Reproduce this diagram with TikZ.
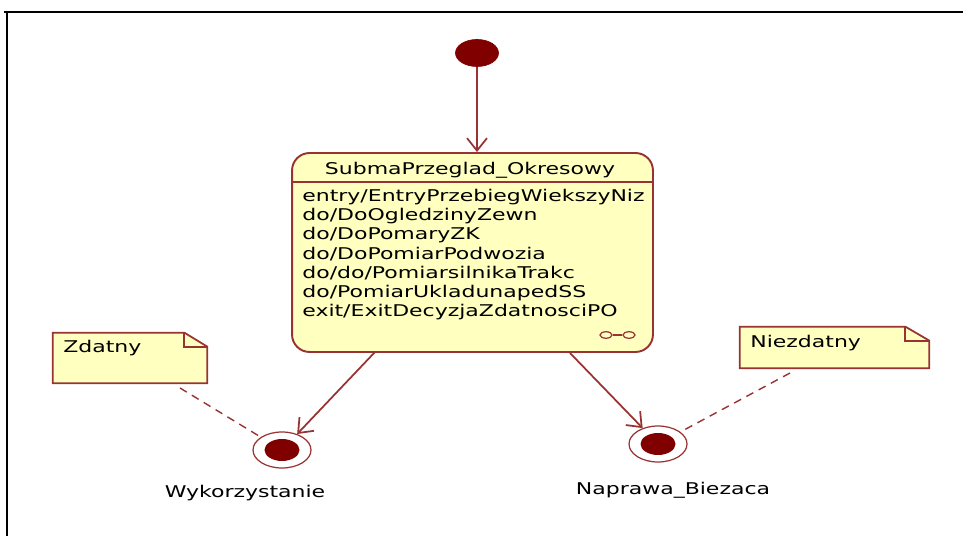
\documentclass[tikz,border=0pt]{standalone}
\usepackage{fontspec}
\newfontfamily\umlfont[FakeStretch=1.36]{DejaVu Sans}
\usetikzlibrary{arrows.meta,shapes.geometric,positioning}
\definecolor{bordo}{HTML}{800000}
\definecolor{ramka}{HTML}{993333}
\definecolor{kremowy}{HTML}{FFFFC0}
\tikzset{
    tekst/.style={font=\umlfont\fontsize{9.2}{11}\selectfont, text=black, inner sep=0pt},
    poczatek/.style={ellipse, fill=bordo, draw=bordo, minimum width=0.86cm, minimum height=0.54cm, inner sep=0pt},
    koniec/.style={ellipse, draw=ramka, fill=white, line width=0.7pt, minimum width=1.16cm, minimum height=0.72cm, inner sep=0pt},
    kropka/.style={ellipse, fill=bordo, minimum width=0.7cm, minimum height=0.44cm, inner sep=0pt},
    stan/.style={draw=ramka, fill=kremowy, line width=1.1pt, rounded corners=0.35cm, inner sep=0pt},
    ikona/.style={ellipse, draw=ramka, line width=0.7pt, minimum width=0.24cm, minimum height=0.13cm, inner sep=0pt},
    przejscie/.style={draw=ramka, line width=1pt, -{Straight Barb[length=2.5mm,width=4mm]}},
    notka/.style={draw=ramka, fill=kremowy, line width=1pt},
    kreska/.style={draw=ramka, dash pattern=on 4.5pt off 3.4pt, line width=0.8pt},
}

\begin{document}
\begin{tikzpicture}[x=0.02cm, y=-0.02cm]
\useasboundingbox (0,0) rectangle (963,536);

% ramka rysunku
\draw [line width=1.4pt] (4,12) -- (963,12);
\draw [line width=1.4pt] (7,12) -- (7,536);

% stan poczatkowy
\node[poczatek] (start) at (477,53) {};

% stan zlozony
\node[stan, minimum width=7.22cm, minimum height=3.98cm] (przeglad) at (472.5,252.5) {};
\node[tekst] (tytul) at (470,170) {SubmaPrzeglad\_Okresowy};
\draw [draw=ramka, line width=1.1pt] (przeglad.west |- 0,182) -- (przeglad.east |- 0,182);
\foreach \linia [count=\i] in {entry/EntryPrzebiegWiekszyNiz, do/DoOgledzinyZewn, do/DoPomaryZK, do/DoPomiarPodwozia, do/do/PomiarsilnikaTrakc, do/PomiarUkladunapedSS, exit/ExitDecyzjaZdatnosciPO}
    \node[tekst, anchor=west] (akcja\i) at (302,177.5+19.2*\i) {\linia};
\node[ikona] (ik1) at (606,335) {};
\node[ikona] (ik2) at (629,335) {};
\draw [draw=ramka, line width=0.7pt] (ik1) -- (ik2);

% stany koncowe
\node[koniec] (wyk) at (282,450) {};
\node[kropka] (wykKropka) at (wyk) {};
\node[tekst] (wykNapis) at (245,493) {Wykorzystanie};

\node[koniec] (napr) at (658,444) {};
\node[kropka] (naprKropka) at (napr) {};
\node[tekst] (naprNapis) at (673,490) {Naprawa\_Biezaca};

% przejscia
\coordinate (wyjscieL) at (375,352);
\coordinate (wyjscieP) at (570,353);
\draw [przejscie] (start) -- (start |- przeglad.north);
\draw [przejscie] (wyjscieL) -- (wyk);
\draw [przejscie] (wyjscieP) -- (napr);

% notatki
\node[minimum width=3.08cm, minimum height=1cm, inner sep=0pt] (zdatny) at (130,358) {};
\draw [notka] (zdatny.south west) -- (zdatny.north west) -- ([xshift=-0.46cm]zdatny.north east) -- ([yshift=-0.28cm]zdatny.north east) -- (zdatny.south east) -- cycle;
\draw [notka, fill=none] ([xshift=-0.46cm]zdatny.north east) -- ([xshift=-0.46cm,yshift=-0.28cm]zdatny.north east) -- ([yshift=-0.28cm]zdatny.north east);
\node[tekst, anchor=west] (zdatnyTekst) at (63,348) {Zdatny};

\node[minimum width=3.78cm, minimum height=0.82cm, inner sep=0pt] (niezdatny) at (834.5,347.5) {};
\draw [notka] (niezdatny.south west) -- (niezdatny.north west) -- ([xshift=-0.48cm]niezdatny.north east) -- ([yshift=-0.28cm]niezdatny.north east) -- (niezdatny.south east) -- cycle;
\draw [notka, fill=none] ([xshift=-0.48cm]niezdatny.north east) -- ([xshift=-0.48cm,yshift=-0.28cm]niezdatny.north east) -- ([yshift=-0.28cm]niezdatny.north east);
\node[tekst, anchor=west] (niezdatnyTekst) at (750,343) {Niezdatny};

% powiazania notatek
\coordinate (zdKoniec) at (180,388);
\coordinate (nzKoniec) at (790,373);
\draw [kreska] (zdKoniec) -- (wyk);
\draw [kreska] (nzKoniec) -- (napr);

\end{tikzpicture}
\end{document}
